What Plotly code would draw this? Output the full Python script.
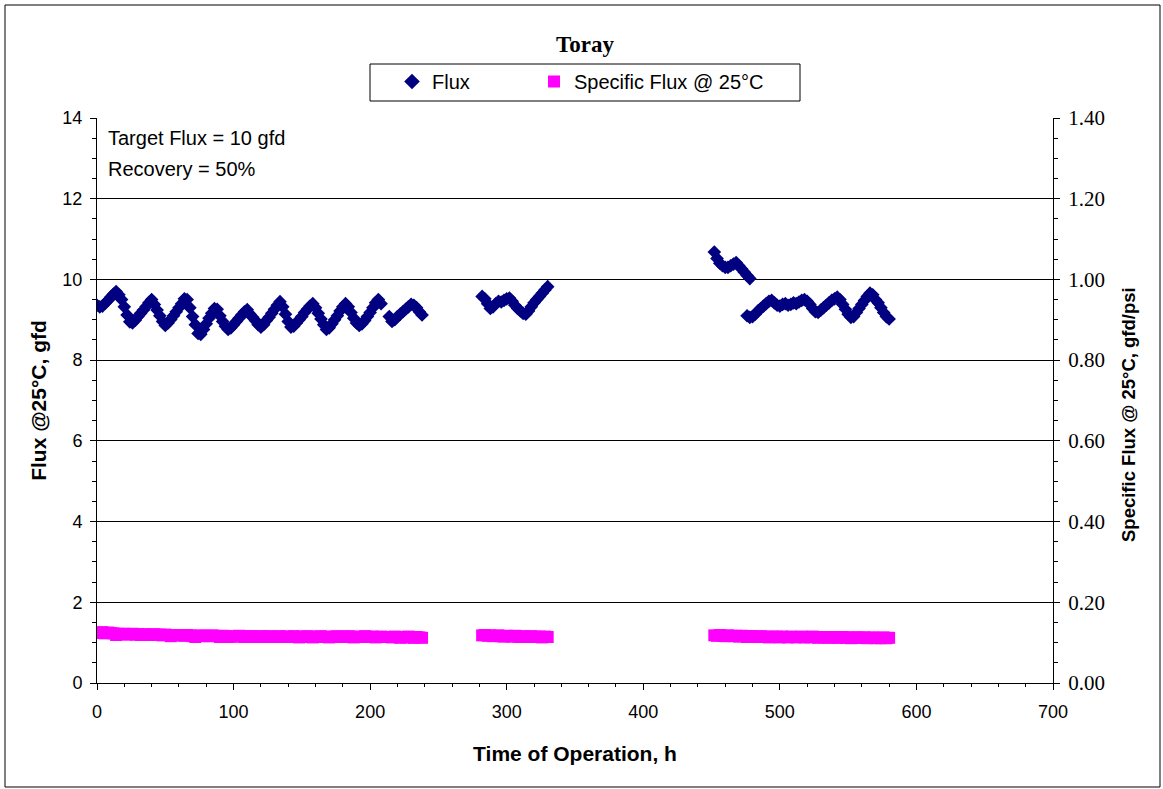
import plotly.graph_objects as go

# ---------------- data ----------------
t_seg1 = [0, 2, 4, 6, 8, 10, 12, 14, 16, 18, 20, 22, 24, 26, 28, 30, 32, 34, 36, 38,
          40, 42, 44, 46, 48, 50, 52, 54, 56, 58, 60, 62, 64, 66, 68, 70, 72, 74, 76, 78,
          80, 82, 84, 86, 88, 90, 92, 94, 96, 98, 100, 102, 104, 106, 108, 110, 112, 114, 116, 118,
          120, 122, 124, 126, 128, 130, 132, 134, 136, 138, 140, 142, 144, 146, 148, 150, 152, 154, 156, 158,
          160, 162, 164, 166, 168, 170, 172, 174, 176, 178, 180, 182, 184, 186, 188, 190, 192, 194, 196, 198,
          200, 202, 204, 206, 208,
          214, 216, 218, 220, 222, 224, 226, 228, 230, 232, 234, 236, 238]
flux_seg1 = [9.36, 9.32, 9.34, 9.41, 9.48, 9.56, 9.63, 9.70, 9.62, 9.50,
             9.32, 9.12, 8.95, 8.92, 8.99, 9.08, 9.16, 9.24, 9.33, 9.42,
             9.50, 9.38, 9.24, 9.10, 8.96, 8.86, 8.92, 9.01, 9.10, 9.20,
             9.30, 9.40, 9.52, 9.50, 9.30, 9.08, 8.88, 8.66, 8.64, 8.76,
             8.90, 9.04, 9.16, 9.28, 9.26, 9.10, 8.96, 8.84, 8.76, 8.80,
             8.88, 8.96, 9.04, 9.12, 9.20, 9.25, 9.14, 9.06, 8.98, 8.88,
             8.82, 8.88, 8.98, 9.06, 9.16, 9.26, 9.36, 9.45, 9.32, 9.14,
             8.96, 8.82, 8.84, 8.92, 9.00, 9.08, 9.18, 9.26, 9.34, 9.40,
             9.30, 9.16, 9.02, 8.88, 8.76, 8.80, 8.90, 9.00, 9.10, 9.22,
             9.32, 9.40, 9.32, 9.18, 9.04, 8.92, 8.86, 8.90, 8.98, 9.08,
             9.18, 9.30, 9.42, 9.50, 9.40,
             9.08, 8.96, 9.00, 9.08, 9.14, 9.20, 9.26, 9.32, 9.38, 9.36, 9.30, 9.20, 9.12]
sflux_seg1 = [0.125, 0.124, 0.126, 0.123, 0.125, 0.124, 0.123, 0.119, 0.122, 0.121,
              0.122, 0.120, 0.121, 0.122, 0.120, 0.121, 0.119, 0.121, 0.120, 0.119,
              0.120, 0.121, 0.119, 0.120, 0.118, 0.120, 0.119, 0.116, 0.119, 0.118,
              0.119, 0.118, 0.117, 0.119, 0.118, 0.116, 0.114, 0.117, 0.118, 0.116,
              0.117, 0.116, 0.118, 0.117, 0.116, 0.114, 0.117, 0.116, 0.114, 0.115,
              0.116, 0.115, 0.117, 0.116, 0.114, 0.116, 0.115, 0.116, 0.114, 0.115,
              0.116, 0.115, 0.114, 0.116, 0.115, 0.114, 0.115, 0.116, 0.114, 0.115,
              0.115, 0.114, 0.116, 0.115, 0.113, 0.115, 0.114, 0.116, 0.115, 0.113,
              0.114, 0.115, 0.116, 0.114, 0.115, 0.113, 0.114, 0.115, 0.116, 0.114,
              0.115, 0.114, 0.116, 0.115, 0.113, 0.114, 0.115, 0.114, 0.116, 0.115,
              0.114, 0.115, 0.113, 0.114, 0.115,
              0.114, 0.113, 0.115, 0.114, 0.112, 0.114, 0.113, 0.115, 0.113, 0.112, 0.114, 0.113, 0.112]

t_seg2 = [282, 284, 286, 288, 290, 292, 294, 296, 298, 300, 302, 304, 306, 308, 310,
          312, 314, 316, 318, 320, 322, 324, 326, 328, 330]
flux_seg2 = [9.58, 9.52, 9.40, 9.28, 9.32, 9.40, 9.46, 9.44, 9.48, 9.52, 9.54, 9.46, 9.36,
             9.28, 9.22, 9.16, 9.14, 9.22, 9.32, 9.42, 9.50, 9.58, 9.66, 9.74, 9.82]
sflux_seg2 = [0.118, 0.119, 0.117, 0.118, 0.116, 0.117, 0.118, 0.116, 0.115, 0.117, 0.116,
              0.115, 0.117, 0.115, 0.114, 0.116, 0.115, 0.114, 0.116, 0.115, 0.114, 0.115,
              0.113, 0.115, 0.114]

t_seg3 = [452, 454, 456, 458, 460, 462, 464, 466, 468, 470, 472, 474, 476, 478,
          476, 478,
          480, 482, 484, 486, 488, 490, 492, 494, 496, 498,
          500, 502, 504, 506, 508, 510, 512, 514, 516, 518,
          520, 522, 524, 526, 528, 530, 532, 534, 536, 538,
          540, 542, 544, 546, 548, 550, 552, 554, 556, 558,
          560, 562, 564, 566, 568, 570, 572, 574, 576, 578, 580]
flux_seg3 = [10.68, 10.52, 10.40, 10.34, 10.30, 10.30, 10.34, 10.38, 10.42, 10.34, 10.26, 10.18, 10.10, 10.02,
             9.10, 9.06,
             9.08, 9.14, 9.22, 9.28, 9.34, 9.40, 9.46, 9.48, 9.42, 9.36,
             9.34, 9.38, 9.40, 9.36, 9.38, 9.42, 9.40, 9.44, 9.48, 9.50,
             9.46, 9.38, 9.28, 9.20, 9.18, 9.24, 9.30, 9.36, 9.42, 9.48,
             9.52, 9.56, 9.50, 9.38, 9.26, 9.14, 9.06, 9.08, 9.18, 9.28,
             9.38, 9.48, 9.58, 9.66, 9.62, 9.50, 9.42, 9.30, 9.18, 9.08, 9.02]
sflux_seg3 = [0.118, 0.117, 0.119, 0.117, 0.116, 0.118, 0.117, 0.116, 0.117, 0.115, 0.117, 0.116, 0.115, 0.116,
              0.114, 0.115,
              0.116, 0.114, 0.115, 0.116, 0.114, 0.115, 0.113, 0.115, 0.114, 0.115,
              0.113, 0.115, 0.114, 0.113, 0.115, 0.114, 0.113, 0.114, 0.115, 0.113,
              0.114, 0.113, 0.115, 0.114, 0.112, 0.114, 0.113, 0.114, 0.112, 0.113,
              0.114, 0.112, 0.113, 0.114, 0.112, 0.113, 0.111, 0.113, 0.112, 0.113,
              0.112, 0.113, 0.111, 0.112, 0.113, 0.111, 0.112, 0.111, 0.113, 0.111, 0.112]

time_h = t_seg1 + t_seg2 + t_seg3
flux = flux_seg1 + flux_seg2 + flux_seg3
spec_flux = sflux_seg1 + sflux_seg2 + sflux_seg3

x_ticks = [0, 100, 200, 300, 400, 500, 600, 700]
left_ticks = [0, 2, 4, 6, 8, 10, 12, 14]
right_ticks = [0.0, 0.2, 0.4, 0.6, 0.8, 1.0, 1.2, 1.4]
right_labels = ["0.00", "0.20", "0.40", "0.60", "0.80", "1.00", "1.20", "1.40"]

NAVY = "#000080"
MAGENTA = "#FF00FF"
SANS = "Liberation Sans, Arial, sans-serif"
SERIF = "Liberation Serif, Times New Roman, serif"

W, H = 1163, 789
L, R, T, B = 97, 110, 118, 106
pw, ph = W - L - R, H - T - B


def px(x):
    return (x - L) / pw


def py(y):
    return (H - B - y) / ph


fig = go.Figure()
fig.add_trace(go.Scatter(
    x=time_h, y=spec_flux, yaxis="y2", mode="markers", name="Specific Flux @ 25°C",
    marker=dict(symbol="square", size=12, color=MAGENTA, line=dict(width=0)),
    legend="legend2",
))
fig.add_trace(go.Scatter(
    x=time_h, y=flux, mode="markers", name="Flux",
    marker=dict(symbol="diamond", size=10.5, color=NAVY, line=dict(width=0)),
    legend="legend",
))

leg_common = dict(
    orientation="h", yanchor="top", xanchor="left",
    font=dict(family=SANS, size=20, color="black"),
    bgcolor="rgba(0,0,0,0)", borderwidth=0, itemsizing="constant",
)

fig.update_layout(
    width=W, height=H,
    margin=dict(l=L, r=R, t=T, b=B),
    paper_bgcolor="white", plot_bgcolor="white",
    showlegend=True,
    legend=dict(x=px(392), y=py(62), **leg_common),
    legend2=dict(x=px(534), y=py(62), **leg_common),
    title=dict(text="<b>Toray</b>", xref="paper", x=px(585), xanchor="center",
               y=1 - 44 / H, yanchor="middle",
               font=dict(family=SERIF, size=23, color="black")),
    xaxis=dict(
        range=[0, 700], tickvals=x_ticks, ticks="outside", ticklen=6, tickcolor="black",
        showline=True, linecolor="black", linewidth=1, showgrid=False, zeroline=False,
        tickfont=dict(family=SANS, size=18, color="black"), ticklabelstandoff=6,
        minor=dict(dtick=20, ticks="outside", ticklen=3, tickcolor="black"),
        title=dict(text="<b>Time of Operation, h</b>", font=dict(family=SANS, size=21, color="black"), standoff=25),
    ),
    yaxis=dict(
        range=[0, 14], tickvals=left_ticks, ticks="outside", ticklen=6, tickcolor="black",
        showline=True, linecolor="black", linewidth=1,
        showgrid=True, gridcolor="black", gridwidth=1, zeroline=False,
        tickfont=dict(family=SANS, size=18, color="black"), ticklabelstandoff=4,
        minor=dict(dtick=0.5, ticks="outside", ticklen=4, tickcolor="black", showgrid=False),
        title=dict(text="<b>Flux @25°C, gfd</b>", font=dict(family=SANS, size=21, color="black"), standoff=10),
    ),
    yaxis2=dict(
        range=[0, 1.4], tickvals=right_ticks, ticktext=right_labels, overlaying="y", side="right",
        ticks="outside", ticklen=6, tickcolor="black",
        showline=True, linecolor="black", linewidth=1, showgrid=False, zeroline=False,
        tickfont=dict(family=SERIF, size=21, color="black"), ticklabelstandoff=4,
        minor=dict(dtick=0.05, ticks="outside", ticklen=4, tickcolor="black", showgrid=False),
    ),
    annotations=[
        dict(text="Target Flux = 10 gfd", x=px(106), y=py(138), xref="paper", yref="paper",
             xanchor="left", yanchor="middle", showarrow=False, font=dict(family=SANS, size=20, color="black")),
        dict(text="Recovery = 50%", x=px(106), y=py(169), xref="paper", yref="paper",
             xanchor="left", yanchor="middle", showarrow=False, font=dict(family=SANS, size=20, color="black")),
        dict(text="<b>Specific Flux @ 25°C, gfd/psi</b>", x=px(1128), y=py(415), xref="paper", yref="paper",
             xanchor="center", yanchor="middle", textangle=-90, showarrow=False,
             font=dict(family=SANS, size=18.5, color="black")),
    ],
    shapes=[
        dict(type="rect", xref="paper", yref="paper", x0=px(370), x1=px(800), y0=py(64), y1=py(101),
             line=dict(color="black", width=1), fillcolor="rgba(0,0,0,0)", layer="above"),
        dict(type="rect", xref="paper", yref="paper", x0=px(5), x1=px(1160), y0=py(5), y1=py(787),
             line=dict(color="black", width=1), fillcolor="rgba(0,0,0,0)", layer="below"),
    ],
)

fig.write_html("out.html")
